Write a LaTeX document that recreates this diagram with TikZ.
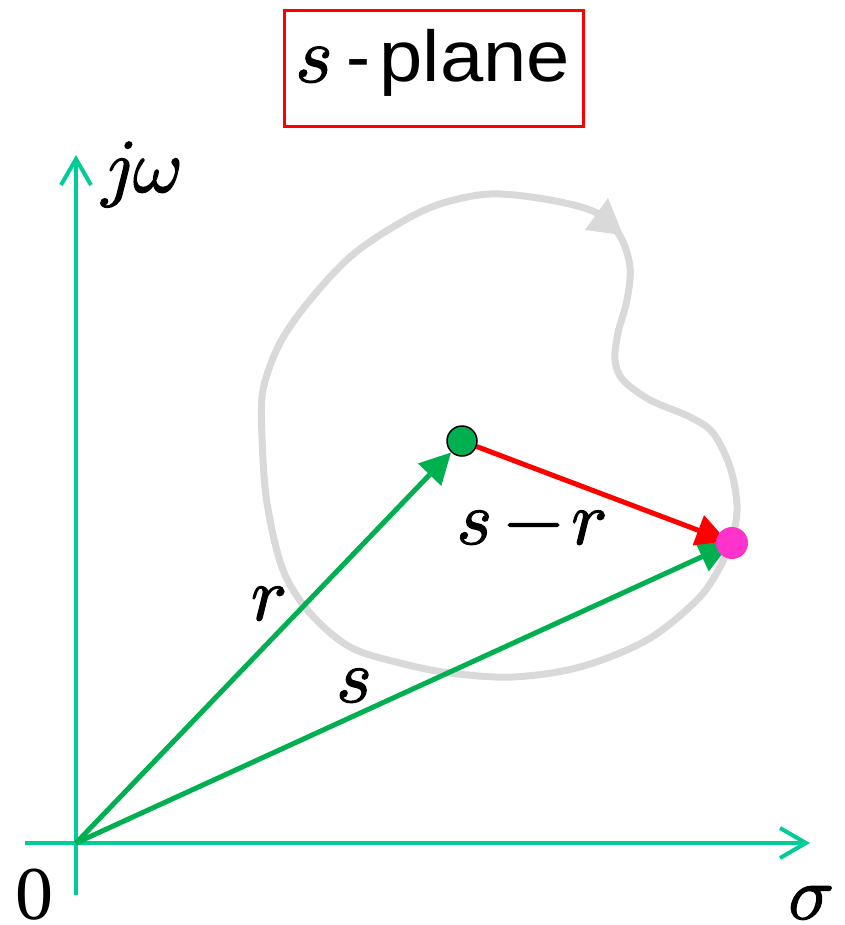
\documentclass[tikz,border=0pt]{standalone}
\usepackage{fontspec}
\setmainfont{Liberation Serif}
\newfontfamily\arialfont{Liberation Sans}
\newfontfamily\lmmathfont{latinmodern-math.otf}[FakeBold=1.5]
\usetikzlibrary{arrows.meta,backgrounds}
\definecolor{axisc}{HTML}{00CC99}
\definecolor{vecg}{HTML}{00B050}
\definecolor{magc}{HTML}{FF33CC}
\definecolor{curvec}{HTML}{D9D9D9}
\newcommand\mathlbl{\fontsize{76}{80}\selectfont\lmmathfont}
\begin{document}
\begin{tikzpicture}[x=1pt,y=-1pt,
  axis/.style={draw=axisc,line width=4pt,-{Straight Barb[length=26pt,width=30pt]}},
  vec/.style={draw=vecg,line width=5pt,-{Triangle[length=31pt,width=31pt]}},
  diffvec/.style={draw=red,line width=5pt,-{Triangle[length=31pt,width=31pt]}},
  lbl/.style={inner sep=0pt,anchor=base,font=\mathlbl},
  contour/.style={draw=curvec,line width=7pt}]
\useasboundingbox (0,0) rectangle (844,925);
% title
\node[draw=red,line width=3pt,minimum width=299pt,minimum height=116pt,inner sep=0pt] (titlebox) at (433.5,69) {};
\node[inner sep=0pt,anchor=base west] (title) at (295,82) {\fontsize{80}{80}\selectfont\lmmathfont 𝑠\arialfont\fontsize{72}{72}\selectfont\hspace{14pt}-\hspace{9pt}\scalebox{1.08}[1]{plane}};
% points
\coordinate (O) at (76,843);
\node[circle,fill=vecg,draw=black,line width=1.5pt,minimum size=30pt,inner sep=0pt] (G) at (462,441) {};
\node[circle,fill=magc,minimum size=32pt,inner sep=0pt] (M) at (732,543) {};
% axes
\coordinate (xs) at (25,843);
\coordinate (xe) at (810,843);
\coordinate (ys) at (76,895);
\coordinate (ye) at (76,155);
\begin{pgfonlayer}{background}
\draw[contour] plot[smooth cycle,tension=0.55] coordinates {
 (490,194) (550,200) (597,213) (620,236) (630,267) (627,300) (618,333) (615,360)
 (623,380) (650,400) (690,417) (713,433) (730,467) (737,505) (733,535) (720,567)
 (697,600) (647,640) (580,667) (513,677) (450,673) (400,663) (350,647) (310,613)
 (283,570) (267,503) (262,437) (263,390) (280,343) (310,300) (350,257) (393,227)
 (437,205)};
\fill[curvec] (608,198) -- (585,230) -- (623,235) -- cycle;
\draw[axis] (xs) -- (xe);
\draw[axis] (ys) -- (ye);
\draw[vec] (O) -- (G);
\draw[vec,shorten >=2pt] (O) -- (M.center);
\draw[diffvec,shorten >=5pt] (G) -- (M.center);
\end{pgfonlayer}
% labels
\node[lbl] (jw) at (141,192) {𝑗𝜔};
\node[lbl,font=\fontsize{76}{80}\selectfont,text depth=0pt] (zero) at (35,919) {0};
\node[lbl,text depth=0pt] (sigma) at (810,919) {𝜎};
\node[lbl] (rl) at (268,620) {𝑟};
\node[lbl] (sl) at (354,702) {𝑠};
\node[lbl] (srl) at (531,544) {𝑠\hspace{12pt}−\hspace{8pt}𝑟};
\end{tikzpicture}
\end{document}
